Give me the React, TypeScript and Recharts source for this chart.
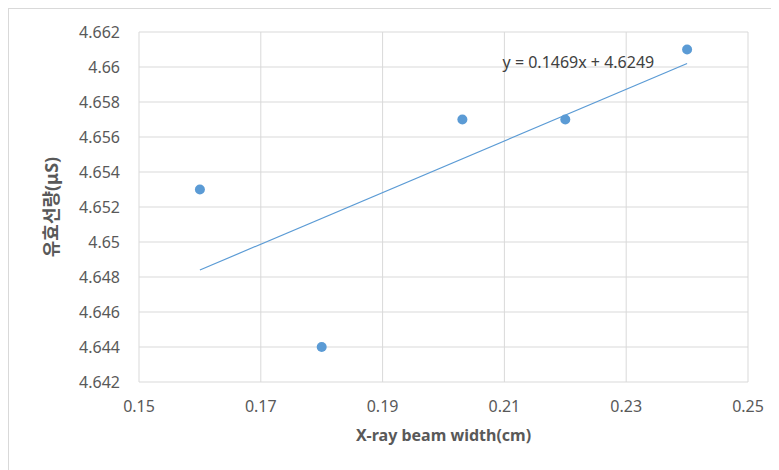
import {
  ScatterChart,
  Scatter,
  XAxis,
  YAxis,
  CartesianGrid,
  ReferenceLine,
  ReferenceDot,
} from "recharts"

// beam width (cm) vs effective dose
const beamWidth = [0.16, 0.18, 0.2031, 0.22, 0.24]
const effDose = [4.653, 4.644, 4.657, 4.657, 4.661]

const xTicks = [0.15, 0.17, 0.19, 0.21, 0.23, 0.25]
const yTicks = [4.642, 4.644, 4.646, 4.648, 4.65, 4.652, 4.654, 4.656, 4.658, 4.66, 4.662]

// linear trendline ends
const trendX = [0.16, 0.24]
const trendY = [4.6484, 4.6602]
const trendText = "y = 0.1469x + 4.6249"
const trendTextAt = { x: 0.2097, y: 4.6602 }

const BLUE = "#5B9BD5"
const GRID = "#d9d9d9"
const TXT = "#595959"
const FONT = "'Noto Sans', 'Noto Sans CJK KR', sans-serif"

const points = beamWidth.map((x, i) => ({ x, y: effDose[i] }))

const fmt = (v: number) => String(+v.toFixed(3))

export default function App() {
  return (
    <div
      style={{
        width: 770,
        height: 461,
        borderTop: "1px solid #d9d9d9",
        borderLeft: "1px solid #d9d9d9",
        background: "#fff",
        fontFamily: FONT,
      }}
    >
      <ScatterChart
        width={770}
        height={461}
        margin={{ top: 23, right: 31, left: 0, bottom: 28 }}
        style={{ fontFamily: FONT }}
      >
        <CartesianGrid stroke={GRID} strokeWidth={1} />
        <XAxis
          type="number"
          dataKey="x"
          domain={[0.15, 0.25]}
          ticks={xTicks}
          tickFormatter={fmt}
          axisLine={false}
          tickLine={false}
          tickSize={0}
          tickMargin={19}
          height={60}
          tick={{ fontSize: 16, fill: TXT }}
          label={{
            content: ({ viewBox }: any) => (
              <text
                x={viewBox.x + viewBox.width / 2}
                y={viewBox.y + 55}
                textAnchor="middle"
                dominantBaseline="middle"
                fontSize={16}
                fontWeight="bold"
                fill={TXT}
              >
                X-ray beam width(cm)
              </text>
            ),
          }}
        />
        <YAxis
          type="number"
          dataKey="y"
          domain={[4.642, 4.662]}
          ticks={yTicks}
          tickFormatter={fmt}
          axisLine={false}
          tickLine={false}
          tickSize={0}
          tickMargin={19}
          width={130}
          tick={{ fontSize: 16, fill: TXT }}
          label={{
            content: ({ viewBox }: any) => {
              const cx = viewBox.x + 44
              const cy = viewBox.y + viewBox.height / 2
              return (
                <text
                  x={cx}
                  y={cy}
                  transform={`rotate(-90 ${cx} ${cy})`}
                  textAnchor="middle"
                  dominantBaseline="middle"
                  fontSize={18}
                  fontWeight="bold"
                  fill={TXT}
                >
                  유효선량(μS)
                </text>
              )
            },
          }}
        />
        <ReferenceLine
          segment={[
            { x: trendX[0], y: trendY[0] },
            { x: trendX[1], y: trendY[1] },
          ]}
          stroke={BLUE}
          strokeWidth={1.2}
        />
        <ReferenceDot
          x={trendTextAt.x}
          y={trendTextAt.y}
          r={0}
          stroke="none"
          fill="none"
          label={{
            content: ({ viewBox }: any) => (
              <text
                x={viewBox.x}
                y={viewBox.y}
                textAnchor="start"
                dominantBaseline="middle"
                fontSize={16}
                fill="#404040"
              >
                {trendText}
              </text>
            ),
          }}
        />
        <Scatter
          data={points}
          isAnimationActive={false}
          fill={BLUE}
          shape={(p: any) => <circle cx={p.cx} cy={p.cy} r={5} fill={BLUE} />}
        />
      </ScatterChart>
    </div>
  )
}
